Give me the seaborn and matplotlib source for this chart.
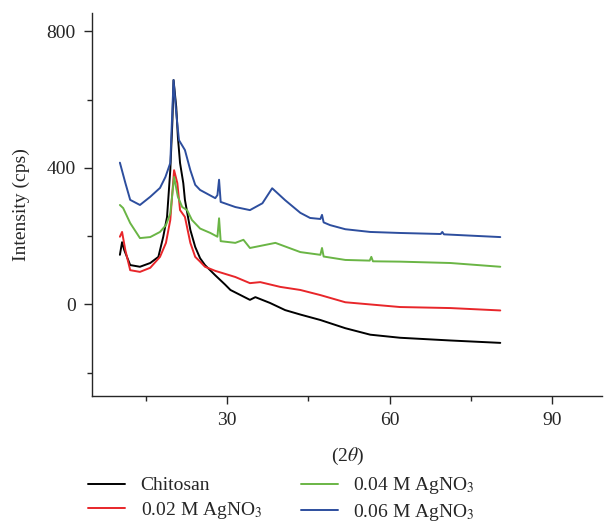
import matplotlib
matplotlib.use("Agg")
import matplotlib.pyplot as plt
from matplotlib.ticker import MultipleLocator
import seaborn as sns
import pandas as pd

# (2theta, intensity in cps)
chitosan_x = [10.2, 10.6, 11.0, 12.1, 13.9, 15.8, 17.3, 18.2, 18.9, 19.5, 19.9, 20.1, 20.6, 20.9,
              21.3, 21.9, 22.2, 23.2, 24.1, 25.0, 25.9, 27.8, 29.6, 30.6, 34.2, 35.2, 37.9, 40.7,
              43.5, 47.2, 51.8, 56.4, 61.9, 71.2, 80.4]
chitosan_y = [145, 182, 159, 115, 110, 121, 139, 198, 256, 393, 540, 657, 578, 490,
              414, 355, 306, 218, 168, 135, 115, 85, 58, 42, 13, 21, 4, -17,
              -30, -46, -70, -89, -98, -106, -113]

ag002_x = [10.2, 10.6, 11.2, 12.1, 13.9, 15.8, 17.6, 18.7, 19.5, 20.2, 20.8, 21.3, 22.2, 23.2,
           24.1, 25.0, 25.9, 27.8, 31.5, 34.2, 36.1, 39.8, 43.5, 47.2, 51.8, 61.9, 71.2, 80.4]
ag002_y = [198, 212, 159, 100, 95, 107, 139, 180, 247, 393, 355, 276, 256, 180,
           139, 125, 110, 98, 80, 62, 65, 51, 42, 27, 6, -8, -11, -18]

ag004_x = [10.2, 10.8, 12.1, 13.9, 15.8, 17.6, 18.7, 19.5, 20.2, 20.9, 21.7, 22.6, 23.5, 25.0,
           26.9, 28.2, 28.5, 28.8, 31.5, 33.0, 34.2, 38.9, 43.5, 47.2, 47.5, 47.8, 51.8, 56.3,
           56.6, 56.9, 61.9, 71.2, 80.4]
ag004_y = [291, 282, 238, 194, 197, 212, 232, 266, 373, 315, 285, 276, 247, 222,
           209, 198, 252, 185, 180, 189, 165, 180, 153, 145, 165, 140, 130, 128,
           139, 126, 125, 121, 110]

ag006_x = [10.2, 11.2, 12.1, 13.9, 15.8, 17.6, 18.6, 19.5, 20.1, 20.6, 21.1, 22.2, 23.2, 24.1,
           25.0, 27.8, 28.2, 28.5, 28.8, 31.5, 34.2, 36.5, 38.3, 40.7, 43.5, 45.3, 47.2, 47.5,
           47.8, 49.0, 51.8, 56.4, 61.9, 69.4, 69.7, 70.0, 80.4]
ag006_y = [415, 356, 306, 291, 315, 341, 373, 414, 657, 560, 481, 452, 393, 350,
           335, 311, 320, 365, 300, 285, 276, 296, 340, 305, 268, 253, 250, 262,
           240, 232, 220, 212, 209, 206, 212, 205, 197]

labels = ["Chitosan", "0.02 M AgNO$_3$", "0.04 M AgNO$_3$", "0.06 M AgNO$_3$"]
colors = ["#000000", "#e8262a", "#6ab545", "#2d4e9e"]

sns.set_style("ticks")
plt.rcParams["font.family"] = ["Liberation Serif", "DejaVu Serif"]
plt.rcParams["mathtext.fontset"] = "stix"

fig = plt.figure(figsize=(6.07, 5.27), dpi=100)
ax = fig.add_axes([0.152, 0.249, 0.840, 0.726])

series = [(chitosan_x, chitosan_y), (ag002_x, ag002_y), (ag004_x, ag004_y), (ag006_x, ag006_y)]
for (xs, ys), lab, col in zip(series, labels, colors):
    df = pd.DataFrame({"x": xs, "y": ys})
    sns.lineplot(data=df, x="x", y="y", ax=ax, color=col, lw=1.4, label=lab,
                 estimator=None, sort=False)

ax.set_xlim(5.1, 99.2)
ax.set_ylim(-268, 853)
ax.xaxis.set_major_locator(MultipleLocator(30))
ax.xaxis.set_minor_locator(MultipleLocator(15))
ax.yaxis.set_major_locator(MultipleLocator(400))
ax.yaxis.set_minor_locator(MultipleLocator(200))
ax.tick_params(which="major", direction="out", length=6, width=1, labelsize=14, pad=6)
ax.tick_params(which="minor", direction="out", length=3.5, width=1)
sns.despine(ax=ax)
for s in ["left", "bottom"]:
    ax.spines[s].set_linewidth(1)

ax.set_xlabel("(2$\\theta$)", fontsize=14, labelpad=12)
ax.set_ylabel("Intensity (cps)", fontsize=14, labelpad=12)

ax.get_legend().remove()
handles, labs = ax.get_legend_handles_labels()
fig.legend(handles, labs, loc="upper left", bbox_to_anchor=(0.145, 0.098), ncol=2,
           frameon=False, fontsize=14, handlelength=1.9, handletextpad=0.8,
           columnspacing=2.0, labelspacing=0.3, borderpad=0, borderaxespad=0)

fig.savefig("out.png", dpi=100)
